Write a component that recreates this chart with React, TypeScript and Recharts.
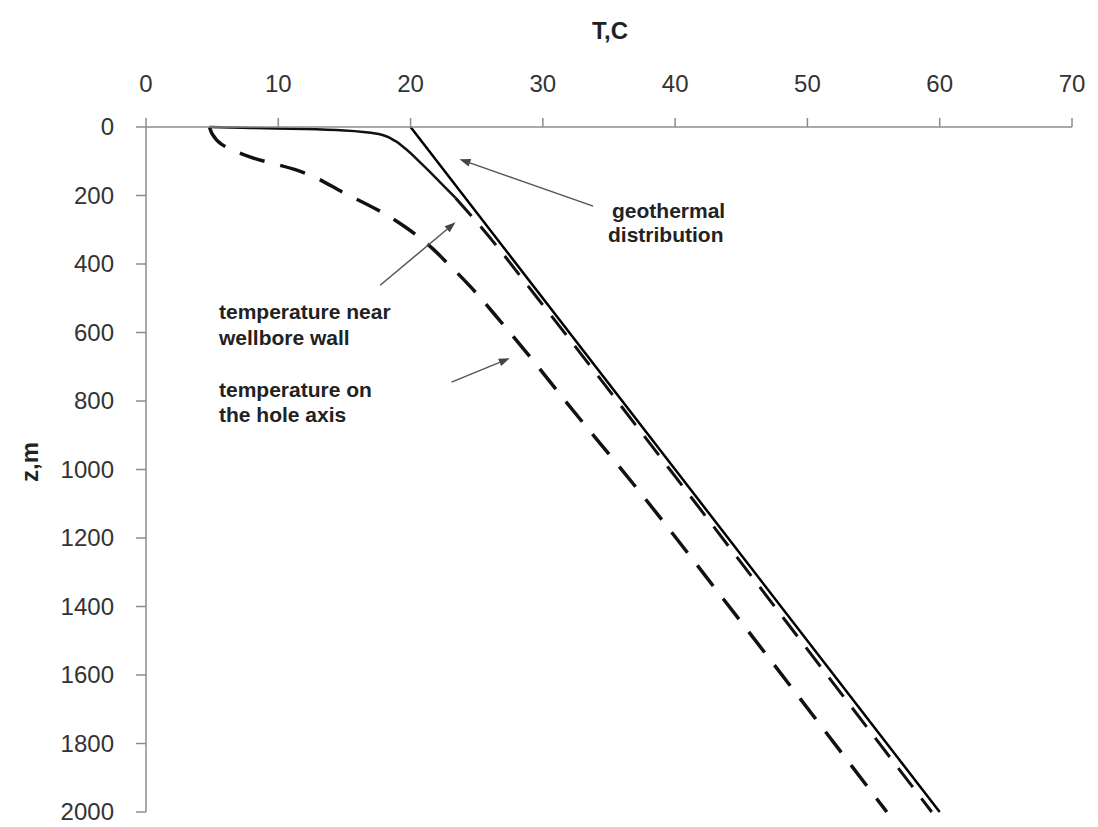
import React from 'react';
import { Line, LineChart, ReferenceLine, XAxis, YAxis } from 'recharts';

// axis ticks
const tempTicks = [0, 10, 20, 30, 40, 50, 60, 70];
const depthTicks = [0, 200, 400, 600, 800, 1000, 1200, 1400, 1600, 1800, 2000];

// geothermal distribution
const geoDepth = [0, 1000, 2000];
const geoTemp = [20, 40, 60];

// temperature near wellbore wall (upper part drawn solid, deeper part dashed)
const wallDepth = [0, 3, 6, 10, 20, 40, 60, 110, 160, 207];
const wallTemp = [4.8, 8, 12, 15, 17.5, 18.8, 19.5, 20.9, 22.2, 23.4];
const wallDeepDepth = [207, 300, 500, 1000, 1500, 2000];
const wallDeepTemp = [23.4, 25.5, 29.6, 39.6, 49.5, 59.4];

// temperature on the hole axis
const holeDepth = [0, 20, 50, 88, 126, 193, 257, 292, 353, 394, 461, 563, 660, 800, 1069, 1381, 2000];
const holeTemp = [4.8, 5.0, 5.7, 7.9, 11.4, 15, 18.2, 19.6, 21.6, 22.7, 24.4, 26.7, 28.8, 31.7, 37.4, 43.7, 56];

const toRows = (depth: number[], temp: number[]) =>
  depth.map((z, i) => ({ z, t: temp[i] }));

const FONT = '"Liberation Sans", Arial, sans-serif';
const AXIS_GRAY = '#8c8c8c';

const TempTick = ({ x, y, payload }: any) => (
  <text x={x} y={y} textAnchor='middle' fontSize={24} fill='#333' fontFamily={FONT}>
    {payload.value}
  </text>
);

const DepthTick = ({ x, y, payload }: any) => (
  <text x={x} y={y} dy={8} textAnchor='end' fontSize={24} fill='#333' fontFamily={FONT}>
    {payload.value}
  </text>
);

// thin grey pointer with a small filled head at the second point
const ArrowShape = (props: any) => {
  const { x1, y1, x2, y2 } = props;
  const ang = Math.atan2(y2 - y1, x2 - x1);
  const len = 11;
  const half = 4;
  const bx = x2 - len * Math.cos(ang);
  const by = y2 - len * Math.sin(ang);
  const px = -Math.sin(ang) * half;
  const py = Math.cos(ang) * half;
  return (
    <g>
      <line x1={x1} y1={y1} x2={bx} y2={by} stroke='#555' strokeWidth={1.5} />
      <polygon
        points={`${x2},${y2} ${bx + px},${by + py} ${bx - px},${by - py}`}
        fill='#444'
      />
    </g>
  );
};

const geoArrow = [
  { x: 33.8, y: 231 },
  { x: 23.7, y: 94 },
];
const wallArrow = [
  { x: 17.7, y: 462 },
  { x: 23.4, y: 278 },
];
const holeArrow = [
  { x: 23.1, y: 745 },
  { x: 27.5, y: 675 },
];

export default function App() {
  return (
    <div style={{ position: 'absolute', left: 0, top: 0, width: 1098, height: 827, background: '#fff' }}>
      <LineChart
        layout='vertical'
        width={1098}
        height={827}
        margin={{ top: 0, right: 26, bottom: 15, left: 0 }}
      >
        <XAxis
          type='number'
          orientation='top'
          domain={[0, 70]}
          ticks={tempTicks}
          height={127}
          tick={<TempTick />}
          tickSize={9}
          tickMargin={26}
          axisLine={{ stroke: AXIS_GRAY, strokeWidth: 1.5 }}
          tickLine={{ stroke: AXIS_GRAY, strokeWidth: 1.5 }}
        />
        <YAxis
          type='number'
          dataKey='z'
          domain={[0, 2000]}
          ticks={depthTicks}
          width={146}
          tick={<DepthTick />}
          tickSize={10}
          tickMargin={22}
          axisLine={{ stroke: AXIS_GRAY, strokeWidth: 1.5 }}
          tickLine={{ stroke: AXIS_GRAY, strokeWidth: 1.5 }}
        />

        <Line
          data={toRows(holeDepth, holeTemp)}
          dataKey='t'
          type='monotone'
          stroke='#111'
          strokeWidth={3.5}
          strokeDasharray='26 16'
          dot={false}
          activeDot={false}
          isAnimationActive={false}
        />
        <Line
          data={toRows(wallDepth, wallTemp)}
          dataKey='t'
          type='monotone'
          stroke='#111'
          strokeWidth={2.5}
          dot={false}
          activeDot={false}
          isAnimationActive={false}
        />
        <Line
          data={toRows(wallDeepDepth, wallDeepTemp)}
          dataKey='t'
          type='monotone'
          stroke='#111'
          strokeWidth={3}
          strokeDasharray='24 14'
          dot={false}
          activeDot={false}
          isAnimationActive={false}
        />
        <Line
          data={toRows(geoDepth, geoTemp)}
          dataKey='t'
          type='linear'
          stroke='#000'
          strokeWidth={2.5}
          dot={false}
          activeDot={false}
          isAnimationActive={false}
        />

        <ReferenceLine segment={geoArrow} shape={ArrowShape} />
        <ReferenceLine segment={wallArrow} shape={ArrowShape} />
        <ReferenceLine segment={holeArrow} shape={ArrowShape} />
      </LineChart>

      <svg
        width={1098}
        height={827}
        style={{ position: 'absolute', left: 0, top: 0, pointerEvents: 'none' }}
        fontFamily={FONT}
      >
        <text x={610} y={39} textAnchor='middle' fontSize={24} fontWeight='bold' fill='#222'>
          T,C
        </text>
        <text
          transform='translate(38,462) rotate(-90)'
          textAnchor='middle'
          fontSize={24}
          fontWeight='bold'
          fill='#222'
        >
          z,m
        </text>
        <g fontSize={21} fontWeight='bold' fill='#222'>
          <text x={612} y={218}>geothermal</text>
          <text x={608} y={242}>distribution</text>
          <text x={219} y={319}>temperature near</text>
          <text x={219} y={345}>wellbore wall</text>
          <text x={219} y={397}>temperature on</text>
          <text x={219} y={422}>the hole axis</text>
        </g>
      </svg>
    </div>
  );
}
